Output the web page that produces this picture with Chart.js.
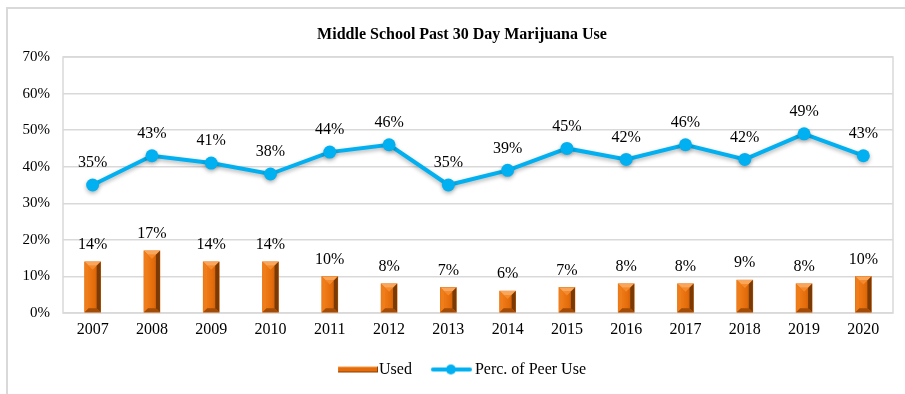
<!DOCTYPE html>
<html>
<head>
<meta charset="utf-8">
<title>Middle School Past 30 Day Marijuana Use</title>
<script src="https://cdn.jsdelivr.net/npm/chart.js@4"></script>
<style>
  html, body { margin: 0; padding: 0; background: #fff; overflow: hidden; }
  #frame {
    position: absolute; left: 6px; top: 7px; width: 1000px; height: 500px;
    border: 2px solid #d9d9d9;
  }
  #wrap { position: absolute; left: 0; top: 0; width: 905px; height: 394px; }
</style>
</head>
<body>
<div id="frame"></div>
<div id="wrap"><canvas id="chart" width="905" height="394"></canvas></div>
<script>
// Survey years and results (percent)
const years = ["2007", "2008", "2009", "2010", "2011", "2012", "2013", "2014", "2015", "2016", "2017", "2018", "2019", "2020"];
const usedValues = [14, 17, 14, 14, 10, 8, 7, 6, 7, 8, 8, 9, 8, 10];
const peerValues = [35, 43, 41, 38, 44, 46, 35, 39, 45, 42, 46, 42, 49, 43];

const chartTitle = "Middle School Past 30 Day Marijuana Use";
const ORANGE = "#E46C0A";
const BLUE = "#00B0F0";
const SERIF = "'Liberation Serif', 'Times New Roman', serif";

// Small canvases used as legend markers (drawn centred on the legend box)
function makeBarMarker() {
  const c = document.createElement("canvas");
  c.width = 58; c.height = 8;
  const g = c.getContext("2d");
  g.fillStyle = ORANGE;
  g.fillRect(18, 1, 40, 6);
  g.fillStyle = "#F59A4A";
  g.fillRect(18, 1, 40, 1);
  g.fillStyle = "#8A3E05";
  g.fillRect(18, 6, 40, 1);
  g.fillRect(57, 1, 1, 6);
  return c;
}

function makeLineMarker() {
  const c = document.createElement("canvas");
  c.width = 54; c.height = 12;
  const g = c.getContext("2d");
  g.strokeStyle = BLUE;
  g.lineWidth = 4;
  g.lineCap = "round";
  g.beginPath();
  g.moveTo(15, 6);
  g.lineTo(52, 6);
  g.stroke();
  g.fillStyle = BLUE;
  g.beginPath();
  g.arc(33, 6, 5, 0, Math.PI * 2);
  g.fill();
  return c;
}

const legendMarkers = [makeBarMarker(), makeLineMarker()];

// Title centred over the whole frame
const frameTitle = {
  id: "frameTitle",
  afterDraw(chart) {
    const ctx = chart.ctx;
    ctx.save();
    ctx.font = "bold 16px " + SERIF;
    ctx.fillStyle = "#000";
    ctx.textAlign = "center";
    ctx.textBaseline = "middle";
    ctx.fillText(chartTitle, 462, 35);
    ctx.restore();
  },
};

// Light gray box round the plot area
const plotBorder = {
  id: "plotBorder",
  beforeDatasetsDraw(chart) {
    const { ctx, chartArea: a } = chart;
    ctx.save();
    ctx.strokeStyle = "#d9d9d9";
    ctx.lineWidth = 1.5;
    ctx.strokeRect(a.left, a.top, a.right - a.left, a.bottom - a.top);
    ctx.restore();
  },
};

// Soft shadow under the line series
const lineShadow = {
  id: "lineShadow",
  beforeDatasetDraw(chart, args) {
    if (args.index !== 1) return;
    const ctx = chart.ctx;
    ctx.save();
    ctx.shadowColor = "rgba(0,0,0,0.3)";
    ctx.shadowBlur = 4;
    ctx.shadowOffsetY = 2;
  },
  afterDatasetDraw(chart, args) {
    if (args.index !== 1) return;
    chart.ctx.restore();
  },
};

// Bevelled look on the bars
const barBevel = {
  id: "barBevel",
  afterDatasetDraw(chart, args) {
    if (args.index !== 0) return;
    const ctx = chart.ctx;
    const poly = (pts, color) => {
      ctx.fillStyle = color;
      ctx.beginPath();
      ctx.moveTo(pts[0][0], pts[0][1]);
      for (let i = 1; i < pts.length; i++) ctx.lineTo(pts[i][0], pts[i][1]);
      ctx.closePath();
      ctx.fill();
    };
    ctx.save();
    args.meta.data.forEach((bar) => {
      const { x, y, base, width } = bar.getProps(["x", "y", "base", "width"], true);
      const l = x - width / 2, r = x + width / 2, t = y, b = base;
      const s = 4;
      const face = ctx.createLinearGradient(l, 0, r, 0);
      face.addColorStop(0, "#F58220");
      face.addColorStop(0.6, "#E46C0A");
      face.addColorStop(1, "#B85508");
      ctx.fillStyle = face;
      ctx.fillRect(l + s, t + s, r - l - 2 * s, b - t - 2 * s);
      poly([[l, t], [r, t], [r - s, t + s], [l + s, t + s]], "#F9A65A");
      poly([[l + s, t + s], [r - s, t + s], [x, t + s + 4]], "#F58A2C");
      poly([[l, t], [l + s, t + s], [l + s, b - s], [l, b]], "#EE7D1A");
      poly([[r, t], [r - s, t + s], [r - s, b - s], [r, b]], "#7A3A05");
      poly([[l, b], [l + s, b - s], [r - s, b - s], [r, b]], "#A24C08");
    });
    ctx.restore();
  },
};

// Percent labels above every bar and point
const valueLabels = {
  id: "valueLabels",
  afterDatasetsDraw(chart) {
    const ctx = chart.ctx;
    ctx.save();
    ctx.font = "16px " + SERIF;
    ctx.fillStyle = "#000";
    ctx.textAlign = "center";
    ctx.textBaseline = "middle";
    chart.data.datasets.forEach((ds, i) => {
      const meta = chart.getDatasetMeta(i);
      const lift = ds.type === "line" ? 22 : 17;
      meta.data.forEach((el, j) => {
        ctx.fillText(ds.data[j] + "%", el.x, el.y - lift);
      });
    });
    ctx.restore();
  },
};

new Chart(document.getElementById("chart"), {
  data: {
    labels: years,
    datasets: [
      {
        type: "bar",
        label: "Used",
        data: usedValues,
        backgroundColor: ORANGE,
        borderWidth: 0,
        barThickness: 16,
        order: 2,
      },
      {
        type: "line",
        label: "Perc. of Peer Use",
        data: peerValues,
        borderColor: BLUE,
        backgroundColor: BLUE,
        borderWidth: 4,
        pointStyle: "circle",
        pointRadius: 6.5,
        pointBackgroundColor: BLUE,
        pointBorderWidth: 0,
        tension: 0,
        order: 1,
      },
    ],
  },
  options: {
    responsive: false,
    animation: false,
    layout: { padding: { left: 20, right: 12, top: 57, bottom: 6.5 } },
    plugins: {
      title: { display: false },
      legend: {
        position: "bottom",
        labels: {
          usePointStyle: true,
          pointStyleWidth: 44,
          padding: 11,
          color: "#000",
          font: { family: SERIF, size: 16 },
          generateLabels(chart) {
            return chart.data.datasets.map((ds, i) => ({
              text: ds.label,
              pointStyle: legendMarkers[i],
              fillStyle: ds.backgroundColor,
              strokeStyle: ds.backgroundColor,
              lineWidth: 0,
              hidden: false,
              datasetIndex: i,
              fontColor: "#000",
            }));
          },
        },
      },
      tooltip: { enabled: false },
    },
    scales: {
      x: {
        afterFit(scale) { scale.height = 37.5; },
        grid: { display: false, drawTicks: false, tickLength: 0 },
        border: { display: false },
        ticks: { color: "#000", padding: 7, font: { family: SERIF, size: 16 } },
      },
      y: {
        min: 0,
        max: 70,
        afterFit(scale) { scale.width = 43; },
        grid: { color: "#d9d9d9", lineWidth: 1.5, drawTicks: false },
        border: { display: false },
        ticks: {
          stepSize: 10,
          padding: 13,
          color: "#000",
          font: { family: SERIF, size: 15 },
          callback: (v) => v + "%",
        },
      },
    },
  },
  plugins: [plotBorder, lineShadow, barBevel, valueLabels, frameTitle],
});
</script>
</body>
</html>
